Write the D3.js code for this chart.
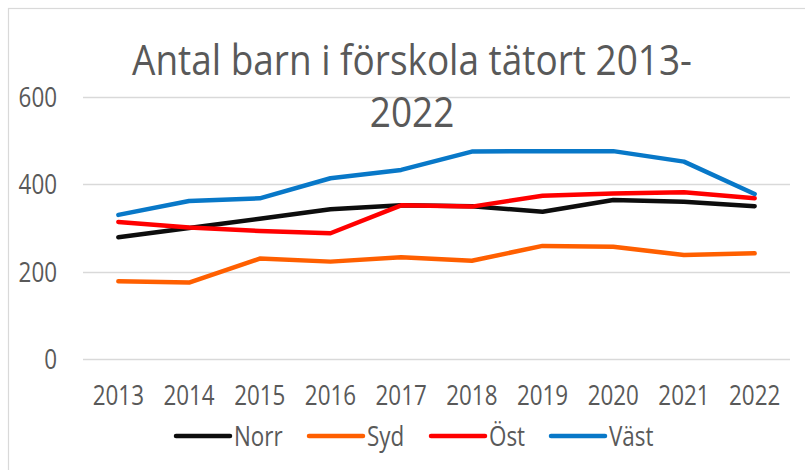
<!DOCTYPE html>
<html>
<head>
<meta charset="utf-8">
<script src="https://cdn.jsdelivr.net/npm/d3@7"></script>
<style>
  body { margin: 0; background: #fff; }
  text { font-family: "Open Sans", sans-serif; fill: #595959; }
</style>
</head>
<body>
<div id="chart"></div>
<script>
const years = ["2013","2014","2015","2016","2017","2018","2019","2020","2021","2022"];
const norr = [279, 300, 321, 343, 352, 350, 337, 364, 360, 350];
const syd  = [178, 175, 230, 223, 233, 225, 259, 257, 238, 242];
const ost  = [314, 301, 293, 288, 352, 349, 374, 379, 382, 368];
const vast = [330, 362, 368, 414, 433, 475, 476, 476, 452, 378];
const seriesNames = ["Norr", "Syd", "Öst", "Väst"];
const yTicks = [0, 200, 400, 600];
const titleLines = ["Antal barn i förskola tätort 2013-", "2022"];

const colors = ["#0d0d0d", "#ff5f00", "#ff0000", "#0878c8"];
const series = [norr, syd, ost, vast].map((v, i) => ({name: seriesNames[i], values: v, color: colors[i]}));

const W = 805, H = 470, SX = 0.8;

const svg = d3.select("#chart").append("svg")
    .attr("width", W)
    .attr("height", H);

// chart border
svg.append("rect")
    .attr("x", 8.5).attr("y", 8.5)
    .attr("width", W + 10).attr("height", H + 10)
    .attr("fill", "none")
    .attr("stroke", "#d9d9d9")
    .attr("stroke-width", 1.2);

const x = d3.scalePoint()
    .domain(years)
    .range([83, 790])
    .padding(0.5);

const y = d3.scaleLinear()
    .domain([0, 600])
    .range([359, 97]);

// squeezed text helper (reference text is horizontally condensed)
function label(g, tx, ty, str, size, anchor, sx) {
    return g.append("text")
        .attr("transform", `translate(${tx},${ty}) scale(${sx || SX},1)`)
        .attr("text-anchor", anchor)
        .attr("font-size", size)
        .text(str);
}

// gridlines
svg.append("g")
    .selectAll("line")
    .data(yTicks)
    .join("line")
    .attr("x1", 83).attr("x2", 790)
    .attr("y1", d => Math.round(y(d)) + 0.5)
    .attr("y2", d => Math.round(y(d)) + 0.5)
    .attr("stroke", "#d9d9d9")
    .attr("stroke-width", 1.3);

// y labels
const yl = svg.append("g");
yTicks.forEach(t => label(yl, 57, y(t) + 10, t, 28, "end"));

// x labels
const xl = svg.append("g");
years.forEach(yr => label(xl, x(yr), 405, yr, 28, "middle"));

// lines
const line = d3.line()
    .x((d, i) => x(years[i]))
    .y(d => y(d));

svg.append("g")
    .selectAll("path")
    .data(series)
    .join("path")
    .attr("d", d => line(d.values))
    .attr("fill", "none")
    .attr("stroke", d => d.color)
    .attr("stroke-width", 4.5)
    .attr("stroke-linecap", "round")
    .attr("stroke-linejoin", "round");

// title
const tg = svg.append("g");
titleLines.forEach((t, i) => label(tg, 412, 75 + i * 52, t, 42, "middle", 0.88));

// legend
const lg = svg.append("g");
const legendX = [176, 309, 431, 551];
series.forEach((s, i) => {
    lg.append("line")
        .attr("x1", legendX[i]).attr("x2", legendX[i] + 54)
        .attr("y1", 436).attr("y2", 436)
        .attr("stroke", s.color)
        .attr("stroke-width", 4.5)
        .attr("stroke-linecap", "round");
    label(lg, legendX[i] + 58, 446, s.name, 28, "start");
});
</script>
</body>
</html>
